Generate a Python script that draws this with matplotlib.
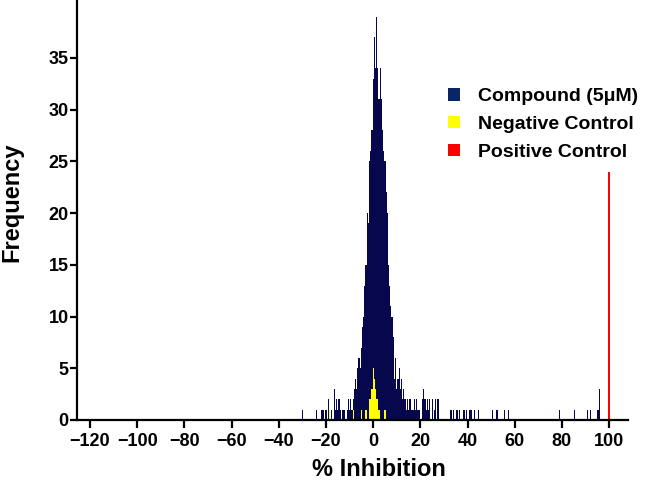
import matplotlib
matplotlib.use("Agg")
import matplotlib.pyplot as plt
from matplotlib.patches import Patch

plt.rcParams['font.family'] = ['Liberation Sans', 'DejaVu Sans']
plt.rcParams['font.weight'] = 'bold'

# Compound (5uM) histogram: bin centers (% inhibition) and counts
compound_bins = [
    -30.0, -24.0, -22.0, -21.5, -21.0, -20.0, -19.0, -18.5, -17.5, -16.5, -16.0,
    -15.5, -15.0, -14.5, -14.0, -13.0, -12.5, -12.0, -11.0, -10.5, -10.0, -9.5,
    -9.0, -8.5, -8.0, -7.5, -7.0, -6.5, -6.0, -5.5, -5.0, -4.5, -4.0, -3.5, -3.0,
    -2.5, -2.0, -1.5, -1.0, -0.5, 0.0, 0.5, 1.0, 1.5, 2.0, 2.5, 3.0, 3.5, 4.0,
    4.5, 5.0, 5.5, 6.0, 6.5, 7.0, 7.5, 8.0, 8.5, 9.0, 9.5, 10.0, 10.5, 11.0,
    11.5, 12.0, 12.5, 13.0, 13.5, 14.0, 14.5, 15.0, 15.5, 16.0, 16.5, 17.0,
    17.5, 18.0, 18.5, 19.0, 19.5, 21.0, 21.5, 22.0, 22.5, 23.0, 23.5, 24.0,
    25.0, 26.0, 26.5, 27.5, 33.0, 34.0, 35.5, 36.5, 38.5, 39.5, 41.0, 41.5,
    43.0, 44.5, 50.5, 52.5, 55.5, 57.5, 79.0, 85.5, 91.0, 92.0, 95.0, 95.5, 96.0,
]
compound_counts = [
    1, 1, 1, 1, 1, 1, 2, 1, 1, 3, 1,
    2, 1, 2, 1, 1, 1, 1, 1, 2, 1, 2,
    1, 2, 3, 4, 3, 5, 6, 5, 7, 9, 10, 13, 15,
    20, 19, 25, 26, 28, 33, 37, 34, 39, 34, 31, 34, 31, 28,
    26, 25, 22, 20, 15, 13, 11, 10, 8, 4, 6, 3, 4, 5,
    3, 4, 2, 3, 2, 1, 2, 1, 2, 2, 1, 1,
    2, 1, 2, 1, 1, 2, 3, 2, 1, 2, 1, 2,
    2, 1, 2, 2, 1, 1, 1, 1, 1, 1, 1, 1,
    1, 1, 1, 1, 1, 1, 1, 1, 1, 1, 1, 1, 3,
]

# Negative control histogram
negative_bins = [-18.5, -8.5, -5.0, -3.0, -1.5, -1.0, -0.5, 0.0, 0.5, 1.0, 1.5, 2.0, 2.5, 5.0]
negative_counts = [1, 1, 1, 1, 2, 2, 3, 5, 4, 3, 2, 2, 1, 1]

# Positive control histogram
positive_bins = [100.0]
positive_counts = [24]

bin_width = 0.5
navy = '#07074d'
yellow = '#ffff00'
red = '#ff0000'

fig = plt.figure(figsize=(6.45, 4.84), dpi=100)
ax = fig.add_axes([77/645, 64/484, 551/645, 420/484])

ax.bar(compound_bins, compound_counts, width=bin_width, color=navy, linewidth=0, align='center')
ax.bar(negative_bins, negative_counts, width=bin_width, color=yellow, linewidth=0, align='center')
ax.bar(positive_bins, positive_counts, width=0.8, color=red, linewidth=0, align='center')

ax.set_xlim(-125.5, 108)
ax.set_ylim(0, 40.6)
ax.set_xticks(range(-120, 101, 20))
ax.set_yticks(range(0, 36, 5))

for s in ['top', 'right']:
    ax.spines[s].set_visible(False)
for s in ['left', 'bottom']:
    ax.spines[s].set_linewidth(1.6)

ax.tick_params(axis='both', direction='out', length=5.5, width=1.6, labelsize=13, pad=4)
ax.tick_params(axis='y', length=5, pad=1)
for lab in ax.get_xticklabels() + ax.get_yticklabels():
    lab.set_fontweight('bold')

ax.set_xlabel('% Inhibition', fontsize=17, fontweight='bold')
ax.set_ylabel('Frequency', fontsize=17, fontweight='bold')
ax.xaxis.set_label_coords(0.548, -0.09)
ax.yaxis.set_label_coords(-0.098, 0.519)

handles = [Patch(facecolor='#0b2466', edgecolor='none', label='Compound (5μM)'),
           Patch(facecolor=yellow, edgecolor='none', label='Negative Control'),
           Patch(facecolor=red, edgecolor='none', label='Positive Control')]
leg = ax.legend(handles=handles, loc='upper left', bbox_to_anchor=(0.66, 0.808),
                frameon=False, fontsize=14, handlelength=0.6, handleheight=0.6,
                handletextpad=0.9, labelspacing=0.55, borderaxespad=0)
for t in leg.get_texts():
    t.set_fontweight('bold')

fig.savefig('out.png', dpi=100)
